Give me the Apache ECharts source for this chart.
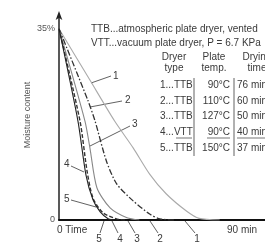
<!DOCTYPE html>
<html>
<head>
<meta charset="utf-8">
<script src="https://cdn.jsdelivr.net/npm/echarts@6/dist/echarts.min.js"></script>
<style>
  html, body { margin: 0; padding: 0; background: #fff; }
  #chart { width: 265px; height: 242px; }
</style>
</head>
<body>
<div id="chart"></div>
<script>
// drying curves, [time in min, moisture in %]
var curve1 = [[0, 35], [15, 25.6], [27, 18.1], [36, 13.2], [44, 8.4], [52, 4.8], [62, 1.6], [68, 0.3], [78, 0]];
var curve2 = [[0, 35], [14, 21.9], [17.5, 18.1], [23, 10.8], [28, 6.6], [36, 3.5], [44, 1.1], [49, 0.2], [56, 0]];
var curve3 = [[0, 35], [12.6, 18.1], [15, 13.2], [18.4, 5.9], [24.8, 2.2], [33, 0.4], [39, 0]];
var curve4 = [[0, 35], [10.2, 18.1], [13.6, 9], [16.5, 4], [21.4, 1.3], [28, 0.2], [32, 0]];
var curve5 = [[0, 35], [9.2, 18.1], [13.1, 8.2], [16.5, 3.7], [20, 1.5], [24, 0.2], [27, 0]];

var rowType = ['1...TTB', '2...TTB', '3...TTB', '4...VTT', '5...TTB'];
var rowTemp = ['90°C', '110°C', '127°C', '90°C', '150°C'];
var rowTime = ['76 min', '60 min', '50 min', '40 min', '37 min'];

var yTicks = {0: '0', 35: '35%'};

var font = 'Liberation Sans, Arial, sans-serif';
var ink = '#3a3a3a';

var myChart = echarts.init(document.getElementById('chart'));

function txt(x, y, s, align) {
    return {
        type: 'text', x: x, y: y,
        style: {text: s, fill: ink, font: '10px ' + font, textAlign: align || 'left', textVerticalAlign: 'middle'}
    };
}
function seg(x1, y1, x2, y2, w) {
    return {
        type: 'line',
        shape: {x1: x1, y1: y1, x2: x2, y2: y2},
        style: {stroke: ink, lineWidth: w || 0.8}
    };
}

var graphics = [
    txt(91, 29, 'TTB...atmospheric plate dryer, vented'),
    txt(91, 43, 'VTT...vacuum plate dryer, P = 6.7 KPa'),
    txt(174, 57, 'Dryer', 'center'),
    txt(174, 68, 'type', 'center'),
    txt(214, 57, 'Plate', 'center'),
    txt(214, 68, 'temp.', 'center'),
    txt(257, 57, 'Drying', 'center'),
    txt(257, 68, 'time', 'center'),
    seg(194, 78, 194, 156),
    seg(234, 78, 234, 156),
    // curve labels
    txt(113, 76, '1'), seg(91, 83, 111, 76),
    txt(125, 100, '2'), seg(90, 107, 122, 101),
    txt(132, 124, '3'), seg(90, 146, 130, 126),
    txt(64, 164, '4'), seg(71, 166, 84, 172),
    txt(64, 199, '5'), seg(71, 200, 96, 207),
    // labels under the axis
    txt(99, 239, '5', 'center'), seg(100, 233, 104, 221),
    txt(120, 239, '4', 'center'), seg(118, 233, 112, 221),
    txt(137, 239, '3', 'center'), seg(135, 233, 128, 221),
    txt(160, 239, '2', 'center'), seg(158, 233, 150, 221),
    txt(197, 239, '1', 'center'), seg(195, 233, 185, 221),
    txt(57, 230, '0 Time'),
    txt(242, 230, '90 min', 'center'),
    {
        type: 'text', x: 28, y: 115, rotation: Math.PI / 2,
        style: {text: 'Moisture content', fill: '#555', font: '9px ' + font, textAlign: 'center', textVerticalAlign: 'middle'}
    }
];
for (var i = 0; i < rowType.length; i++) {
    var y = 85 + i * 15.8;
    graphics.push(txt(160, y, rowType[i]));
    graphics.push(txt(230, y, rowTemp[i], 'right'));
    graphics.push(txt(237, y, rowTime[i]));
}
// underline of row 4
graphics.push(seg(176, 138, 192, 138, 0.7));
graphics.push(seg(207, 138, 230, 138, 0.7));
graphics.push(seg(237, 138, 265, 138, 0.7));

function curve(data, color, type, width) {
    return {
        type: 'line',
        data: data,
        smooth: 0.25,
        showSymbol: false,
        lineStyle: {color: color, type: type, width: width},
        z: 3
    };
}

option = {
    animation: false,
    grid: {left: 59, right: 0, top: 15, bottom: 22},
    xAxis: {
        type: 'value',
        min: 0,
        max: 100,
        axisLine: {lineStyle: {color: '#111', width: 2}},
        axisTick: {show: false},
        axisLabel: {show: false},
        splitLine: {show: false}
    },
    yAxis: {
        type: 'value',
        min: 0,
        max: 37.5,
        interval: 35,
        axisLine: {show: true, symbol: ['none', 'arrow'], symbolSize: [5, 9], symbolOffset: [0, 4], lineStyle: {color: '#222', width: 1.5}},
        axisTick: {show: false},
        splitLine: {show: false},
        axisLabel: {
            margin: 4,
            color: '#555',
            fontFamily: font,
            fontSize: 9,
            formatter: function (v) { return yTicks[v] || ''; }
        }
    },
    graphic: graphics,
    series: [
        curve(curve1, '#aaaaaa', 'solid', 1.1),
        curve(curve2, '#333333', [6, 2, 1.5, 2], 1.3),
        curve(curve3, '#888888', 'solid', 1.1),
        curve(curve4, '#333333', [4, 2], 1.4),
        curve(curve5, '#222222', 'solid', 1.1)
    ]
};

myChart.setOption(option);
</script>
</body>
</html>
